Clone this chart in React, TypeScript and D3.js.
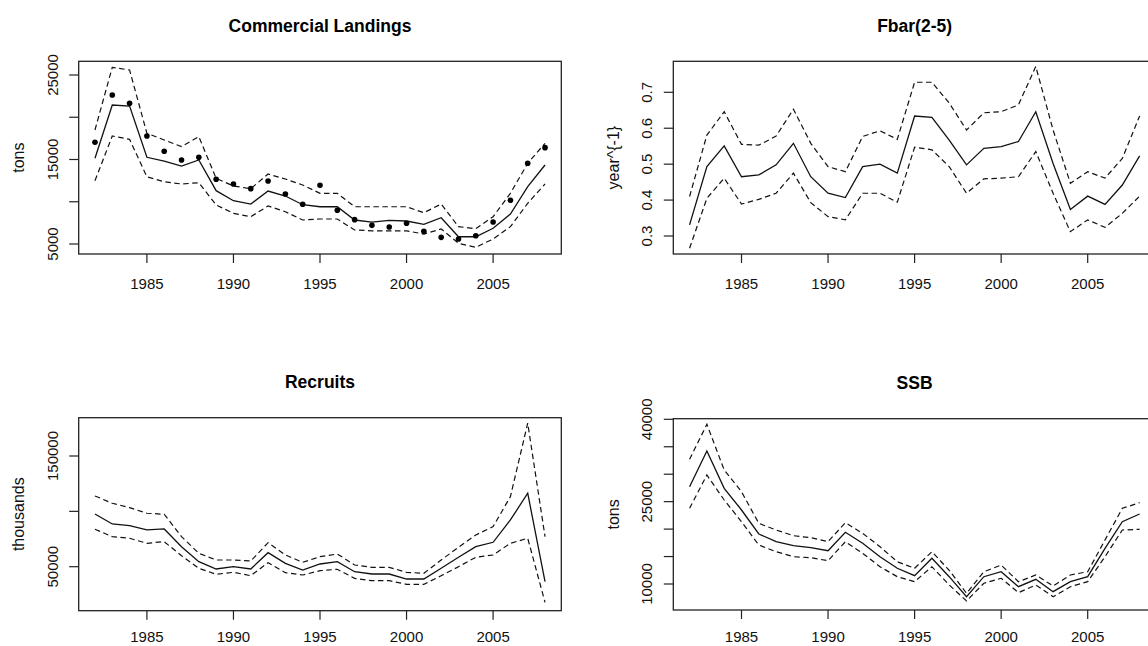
import React from "react";
import * as d3 from "d3";

const years = d3.range(1982, 2009);
const xTicks = [1985, 1990, 1995, 2000, 2005];

const landingsObs = [17040, 22630, 21650, 17780, 15970, 14940, 15260, 12660, 12100, 11550, 12460, 10920, 9700, 11950, 8990, 7880, 7210, 7010, 7450, 6500, 5790, 5590, 5980, 7600, 10170, 14550, 16400];
const landingsEst = [15140, 21450, 21330, 15260, 14820, 14230, 14940, 11310, 10120, 9730, 11270, 10680, 9650, 9410, 9410, 7840, 7600, 7800, 7720, 7330, 8110, 5860, 5860, 6860, 8550, 11780, 14350];
const landingsUpper = [18490, 25910, 25590, 18100, 17310, 16520, 17700, 12770, 11860, 11550, 13280, 12690, 11980, 11000, 11000, 9410, 9410, 9410, 9410, 8700, 9730, 7050, 6810, 8230, 11000, 14550, 16920];
const landingsLower = [12490, 17780, 17390, 12960, 12370, 12100, 12250, 9620, 8630, 8230, 9500, 8820, 7840, 7960, 7960, 6660, 6560, 6560, 6560, 6180, 6780, 5080, 4610, 5590, 7050, 9820, 12100];

const fbarEst = [0.331, 0.493, 0.551, 0.465, 0.47, 0.498, 0.558, 0.465, 0.419, 0.407, 0.493, 0.5, 0.475, 0.634, 0.63, 0.567, 0.498, 0.544, 0.549, 0.563, 0.646, 0.502, 0.374, 0.411, 0.388, 0.442, 0.523];
const fbarUpper = [0.41, 0.581, 0.646, 0.555, 0.553, 0.578, 0.653, 0.558, 0.493, 0.479, 0.577, 0.593, 0.569, 0.728, 0.728, 0.67, 0.595, 0.643, 0.646, 0.665, 0.772, 0.595, 0.447, 0.479, 0.461, 0.516, 0.634];
const fbarLower = [0.266, 0.405, 0.461, 0.389, 0.402, 0.419, 0.475, 0.393, 0.354, 0.345, 0.419, 0.419, 0.394, 0.547, 0.54, 0.493, 0.419, 0.459, 0.461, 0.465, 0.535, 0.419, 0.312, 0.345, 0.324, 0.363, 0.411];

const recruitsEst = [97650, 88600, 87070, 83180, 84090, 68080, 54520, 47920, 50000, 47920, 62660, 53070, 47020, 52440, 54520, 45480, 43400, 43400, 38880, 38880, 48550, 58500, 68080, 72060, 92230, 116370, 36440];
const recruitsUpper = [113930, 107320, 103350, 98280, 97380, 77130, 62120, 56060, 56060, 55150, 71700, 60580, 53970, 59040, 61480, 51540, 49450, 49450, 44940, 44030, 56060, 67540, 78660, 86170, 113300, 179650, 77130];
const recruitsLower = [83820, 77130, 75680, 71160, 72600, 59950, 48550, 43130, 44940, 41860, 53620, 44570, 42490, 46380, 47650, 39510, 37340, 37340, 34090, 34090, 41860, 50000, 58500, 60580, 71160, 75680, 17810];

const ssbEst = [27720, 34230, 27430, 23480, 19110, 17710, 16980, 16610, 16070, 19420, 17410, 14970, 12860, 11510, 14680, 11330, 7690, 11330, 12240, 9510, 10860, 8600, 10420, 11330, 16500, 21350, 22750];
const ssbUpper = [32710, 39090, 30770, 26810, 21050, 19840, 18800, 18430, 17710, 21170, 19230, 16800, 14060, 12860, 15880, 12500, 8300, 12240, 13460, 10420, 11640, 9640, 11640, 12240, 18010, 23790, 24810];
const ssbLower = [23790, 29850, 25300, 21350, 17100, 15890, 14970, 14790, 14240, 17710, 15590, 13150, 11330, 10420, 13150, 9820, 6900, 10130, 11040, 8420, 9820, 7690, 9510, 10420, 14970, 19840, 19960];

const landingsTicks = [5000, 10000, 15000, 20000, 25000];
const landingsLabels = [5000, 15000, 25000];
const fbarTicks = [0.3, 0.4, 0.5, 0.6, 0.7];
const fbarLabels = [0.3, 0.4, 0.5, 0.6, 0.7];
const recruitsTicks = [50000, 100000, 150000];
const recruitsLabels = [50000, 150000];
const ssbTicks = [10000, 15000, 20000, 25000, 30000, 35000, 40000];
const ssbLabels = [10000, 25000, 40000];

const FONT = "'Liberation Sans', Arial, Helvetica, sans-serif";
const X_DOMAIN: [number, number] = [1981.06, 2008.94];

type PanelDef = {
  title: string;
  ylab: string;
  left: number;
  right: number;
  top: number;
  bottom: number;
  yDomain: [number, number];
  est: number[];
  upper: number[];
  lower: number[];
  obs?: number[];
  ticks: number[];
  labels: number[];
  fmt: (v: number) => string;
};

const panels: PanelDef[] = [
  {
    title: "Commercial Landings", ylab: "tons",
    left: 78.7, right: 561.3, top: 61.3, bottom: 254,
    yDomain: [3817, 26621], est: landingsEst, upper: landingsUpper, lower: landingsLower, obs: landingsObs,
    ticks: landingsTicks, labels: landingsLabels, fmt: (v) => String(v),
  },
  {
    title: "Fbar(2-5)", ylab: "year^{-1}",
    left: 673.3, right: 1155.9, top: 61.3, bottom: 254,
    yDomain: [0.2499, 0.7863], est: fbarEst, upper: fbarUpper, lower: fbarLower,
    ticks: fbarTicks, labels: fbarLabels, fmt: (v) => v.toFixed(1),
  },
  {
    title: "Recruits", ylab: "thousands",
    left: 78.7, right: 561.3, top: 417.7, bottom: 610.7,
    yDomain: [10250, 184600], est: recruitsEst, upper: recruitsUpper, lower: recruitsLower,
    ticks: recruitsTicks, labels: recruitsLabels, fmt: (v) => String(v),
  },
  {
    title: "SSB", ylab: "tons",
    left: 673.3, right: 1155.9, top: 418.7, bottom: 610,
    yDomain: [5264, 40110], est: ssbEst, upper: ssbUpper, lower: ssbLower,
    ticks: ssbTicks, labels: ssbLabels, fmt: (v) => String(v),
  },
];

function Panel({ p }: { p: PanelDef }) {
  const x = d3.scaleLinear().domain(X_DOMAIN).range([p.left, p.right]);
  const y = d3.scaleLinear().domain(p.yDomain).range([p.bottom, p.top]);
  const line = d3.line<number>().x((_, i) => x(years[i])).y((d) => y(d));
  const ink = "#111";
  const midY = (p.top + p.bottom) / 2;
  const labelY = Math.min(p.bottom + 34.5, 642);
  return (
    <g>
      <text x={x(1995)} y={p.top - 29.5} textAnchor="middle" fontFamily={FONT} fontWeight="bold" fontSize={17.5} fill="#000">
        {p.title}
      </text>
      <rect x={p.left} y={p.top} width={p.right - p.left} height={p.bottom - p.top} fill="none" stroke="#222" strokeWidth={1.3} />
      {xTicks.map((t) => (
        <g key={t}>
          <line x1={x(t)} x2={x(t)} y1={p.bottom} y2={p.bottom + 9} stroke="#222" strokeWidth={1.2} />
          <text x={x(t)} y={labelY} textAnchor="middle" fontFamily={FONT} fontSize={15} fill="#111">{t}</text>
        </g>
      ))}
      {p.ticks.map((t) => (
        <line key={t} x1={p.left - 9.5} x2={p.left} y1={y(t)} y2={y(t)} stroke="#222" strokeWidth={1.2} />
      ))}
      {p.labels.map((t) => (
        <text key={t} transform={`translate(${p.left - 21},${y(t)}) rotate(-90)`} textAnchor="middle" fontFamily={FONT} fontSize={15} fill="#111">
          {p.fmt(t)}
        </text>
      ))}
      <text transform={`translate(${p.left - 54.5},${midY}) rotate(-90)`} textAnchor="middle" fontFamily={FONT} fontSize={16} fill="#111">
        {p.ylab}
      </text>
      <path d={line(p.upper) || ""} fill="none" stroke={ink} strokeWidth={1.2} strokeDasharray="5.5,3.5" />
      <path d={line(p.lower) || ""} fill="none" stroke={ink} strokeWidth={1.2} strokeDasharray="5.5,3.5" />
      <path d={line(p.est) || ""} fill="none" stroke={ink} strokeWidth={1.3} />
      {p.obs && p.obs.map((v, i) => (
        <circle key={i} cx={x(years[i])} cy={y(v)} r={2.8} fill="#000" />
      ))}
    </g>
  );
}

export default function App() {
  return (
    <svg width={1148} height={646} viewBox="0 0 1148 646" style={{ position: "absolute", left: 0, top: 0, background: "#fff", display: "block" }}>
      <rect x={0} y={0} width={1148} height={646} fill="#fff" />
      {panels.map((p) => (
        <Panel key={p.title} p={p} />
      ))}
    </svg>
  );
}
